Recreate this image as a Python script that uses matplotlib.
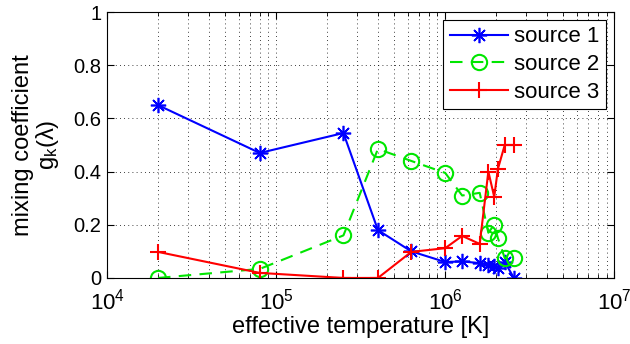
import numpy as np
import matplotlib
matplotlib.use('Agg')
import matplotlib.pyplot as plt
from matplotlib.ticker import LogLocator, NullFormatter

plt.rcParams['font.family'] = ['Liberation Sans', 'DejaVu Sans']
plt.rcParams['mathtext.fontset'] = 'custom'
plt.rcParams['mathtext.rm'] = 'Liberation Sans'
plt.rcParams['mathtext.it'] = 'Liberation Sans:italic'
plt.rcParams['mathtext.sf'] = 'Liberation Sans'

# effective temperatures [K]
temperature = [2.0e4, 8.0e4, 2.5e5, 4.0e5, 6.3e5, 1.0e6, 1.26e6, 1.6e6,
               1.8e6, 1.95e6, 2.05e6, 2.25e6, 2.55e6]
# mixing coefficients per source
source1 = [0.65, 0.47, 0.545, 0.18, 0.10, 0.06, 0.062, 0.056,
           0.05, 0.045, 0.038, 0.06, 0.0]
source2 = [0.0, 0.034, 0.16, 0.485, 0.44, 0.395, 0.31, 0.32,
           0.17, 0.2, 0.15, 0.075, 0.075]
source3 = [0.098, 0.019, 0.0, 0.0, 0.098, 0.112, 0.158, 0.128,
           0.4, 0.305, 0.41, 0.5, 0.5]
labels = ['source 1', 'source 2', 'source 3']
yticks = [0, 0.2, 0.4, 0.6, 0.8, 1]
yticklabels = ['0', '0.2', '0.4', '0.6', '0.8', '1']

fig = plt.figure(figsize=(6.3, 3.44), dpi=100)
ax = fig.add_axes([0.170, 0.192, 0.805, 0.773])

ax.plot(temperature, source1, color=(0, 0, 1), linestyle='-', marker=(8, 2, 0),
        markersize=11, markeredgewidth=1.2, linewidth=1.5, label=labels[0])
ax.plot(temperature, source2, color=(0, 0.9, 0), linestyle='--', dashes=(6, 4),
        marker='o', markersize=11, markerfacecolor='none', markeredgewidth=1.5,
        linewidth=1.5, label=labels[1])
ax.plot(temperature, source3, color=(1, 0, 0), linestyle='-', marker='+',
        markersize=12, markeredgewidth=1.5, linewidth=1.5, label=labels[2])

ax.set_xscale('log')
ax.set_xlim(1e4, 1e7)
ax.set_ylim(0, 1)
ax.xaxis.set_major_locator(LogLocator(base=10, numticks=10))
ax.xaxis.set_minor_locator(LogLocator(base=10, subs=np.arange(2, 10), numticks=20))
ax.xaxis.set_minor_formatter(NullFormatter())
ax.set_yticks(yticks)
ax.set_yticklabels(yticklabels)

grid_style = dict(linestyle=(0, (1, 4)), color='k', linewidth=0.6)
ax.grid(True, which='major', **grid_style)
ax.grid(True, which='minor', axis='x', **grid_style)
ax.tick_params(which='both', direction='in', top=True, right=True)
ax.tick_params(axis='y', labelsize=14.5, pad=4)
ax.tick_params(axis='x', labelsize=16, pad=8)
ax.tick_params(which='major', length=5)
ax.tick_params(which='minor', length=3)
for sp in ax.spines.values():
    sp.set_linewidth(0.8)

ax.set_xlabel('effective temperature [K]', fontsize=17, labelpad=1)
ax.set_ylabel('mixing coefficient\n$\\mathrm{g_k(\\lambda)}$', fontsize=17,
              linespacing=1.0, labelpad=9)

leg = ax.legend(loc='upper right', fontsize=16, fancybox=False, framealpha=1,
                edgecolor='k', borderpad=0.3, labelspacing=0.3, handlelength=2.6,
                handletextpad=0.3, borderaxespad=0.35)
leg.get_frame().set_linewidth(0.8)

fig.savefig('out.png', dpi=100)
